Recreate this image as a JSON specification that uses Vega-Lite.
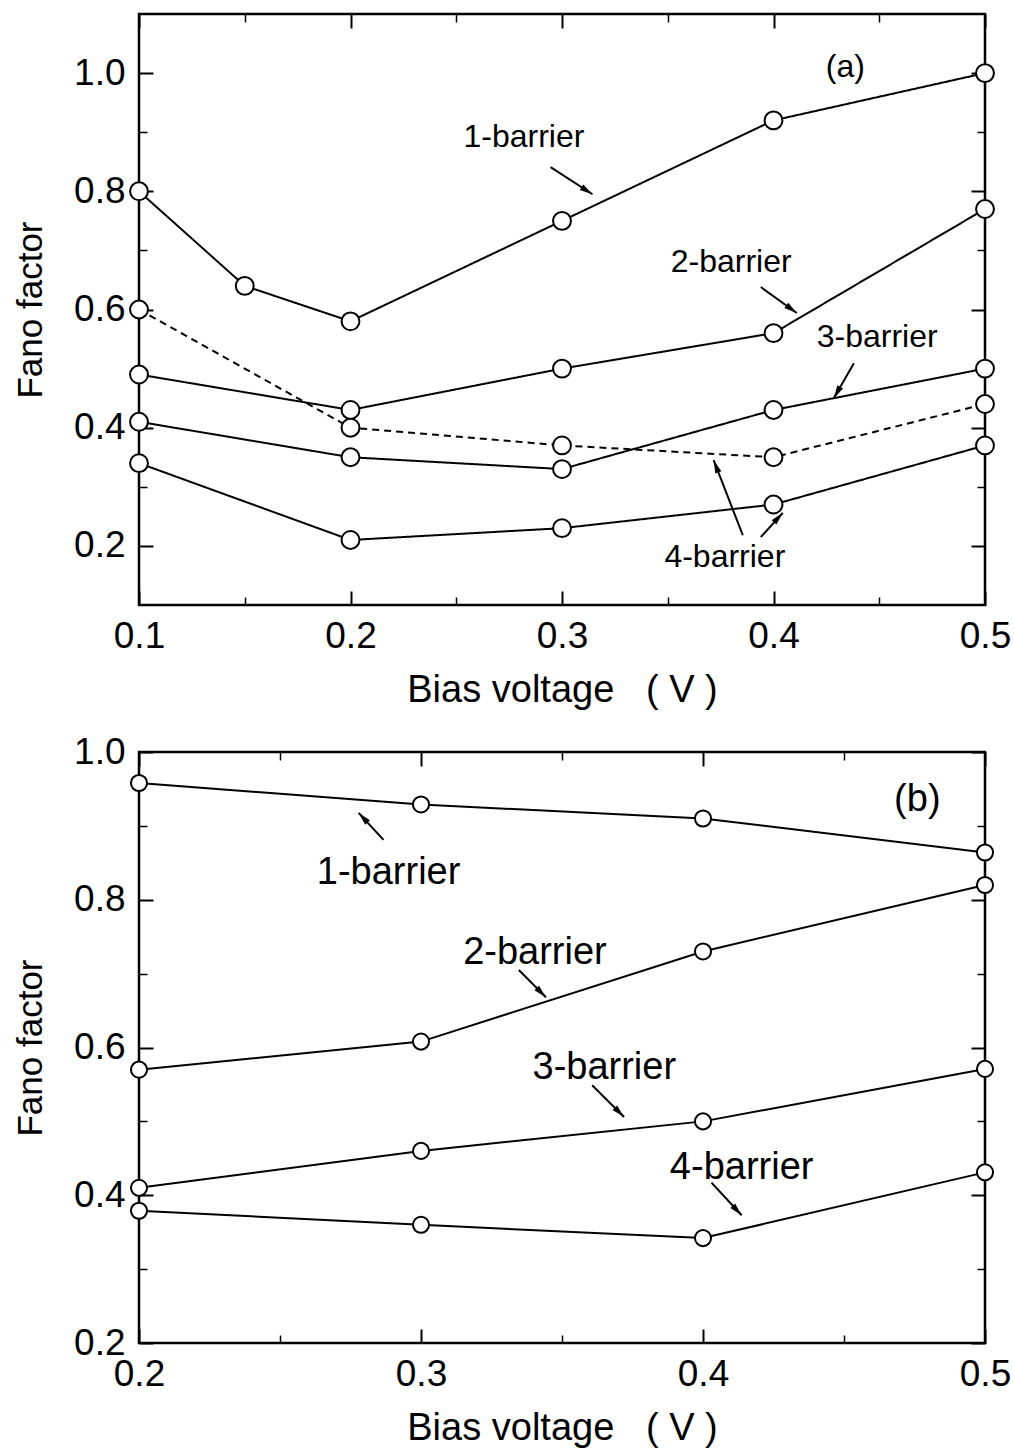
{
  "$schema": "https://vega.github.io/schema/vega-lite/v6.json",
  "padding": {"left": 12, "top": 11, "right": 5, "bottom": 5},
  "background": "white",
  "spacing": 147,
  "bounds": "flush",
  "config": {
    "font": "Liberation Sans",
    "view": {"stroke": "black", "strokeWidth": 2.5},
    "axis": {"domain": false, "grid": false, "tickColor": "black", "tickWidth": 2, "labelFont": "Liberation Sans", "labelFontSize": 37, "labelColor": "black", "titleFont": "Liberation Sans", "titleFontWeight": "normal", "titleColor": "black", "labelFlush": false, "labelOverlap": false},
    "axisX": {"labelPadding": 27, "titlePadding": 17, "titleFontSize": 38},
    "axisY": {"labelPadding": 28, "titlePadding": 25, "titleFontSize": 35}
  },
  "datasets": {
    "a": [
      {"x": 0.1, "y": 0.80, "s": "1"}, {"x": 0.15, "y": 0.64, "s": "1"}, {"x": 0.2, "y": 0.58, "s": "1"}, {"x": 0.3, "y": 0.75, "s": "1"}, {"x": 0.4, "y": 0.92, "s": "1"}, {"x": 0.5, "y": 1.0, "s": "1"},
      {"x": 0.1, "y": 0.49, "s": "2"}, {"x": 0.2, "y": 0.43, "s": "2"}, {"x": 0.3, "y": 0.50, "s": "2"}, {"x": 0.4, "y": 0.56, "s": "2"}, {"x": 0.5, "y": 0.77, "s": "2"},
      {"x": 0.1, "y": 0.41, "s": "3"}, {"x": 0.2, "y": 0.35, "s": "3"}, {"x": 0.3, "y": 0.33, "s": "3"}, {"x": 0.4, "y": 0.43, "s": "3"}, {"x": 0.5, "y": 0.50, "s": "3"},
      {"x": 0.1, "y": 0.34, "s": "4"}, {"x": 0.2, "y": 0.21, "s": "4"}, {"x": 0.3, "y": 0.23, "s": "4"}, {"x": 0.4, "y": 0.27, "s": "4"}, {"x": 0.5, "y": 0.37, "s": "4"},
      {"x": 0.1, "y": 0.60, "s": "4d"}, {"x": 0.2, "y": 0.40, "s": "4d"}, {"x": 0.3, "y": 0.37, "s": "4d"}, {"x": 0.4, "y": 0.35, "s": "4d"}, {"x": 0.5, "y": 0.44, "s": "4d"}
    ],
    "a_lab": [
      {"x": 0.282, "y": 0.892, "t": "1-barrier"},
      {"x": 0.380, "y": 0.680, "t": "2-barrier"},
      {"x": 0.449, "y": 0.553, "t": "3-barrier"},
      {"x": 0.377, "y": 0.181, "t": "4-barrier"},
      {"x": 0.434, "y": 1.010, "t": "(a)"}
    ],
    "a_arr": [
      {"x": 0.2946, "y": 0.841, "x2": 0.3144, "y2": 0.795, "dir": 122.7},
      {"x": 0.394, "y": 0.638, "x2": 0.411, "y2": 0.594, "dir": 126.6},
      {"x": 0.438, "y": 0.509, "x2": 0.4285, "y2": 0.450, "dir": 209.7},
      {"x": 0.3855, "y": 0.218, "x2": 0.3717, "y2": 0.345, "dir": 338.9},
      {"x": 0.394, "y": 0.215, "x2": 0.4044, "y2": 0.256, "dir": 42.5}
    ],
    "b": [
      {"x": 0.2, "y": 0.958, "s": "1"}, {"x": 0.3, "y": 0.929, "s": "1"}, {"x": 0.4, "y": 0.91, "s": "1"}, {"x": 0.5, "y": 0.864, "s": "1"},
      {"x": 0.2, "y": 0.570, "s": "2"}, {"x": 0.3, "y": 0.608, "s": "2"}, {"x": 0.4, "y": 0.730, "s": "2"}, {"x": 0.5, "y": 0.82, "s": "2"},
      {"x": 0.2, "y": 0.41, "s": "3"}, {"x": 0.3, "y": 0.46, "s": "3"}, {"x": 0.4, "y": 0.50, "s": "3"}, {"x": 0.5, "y": 0.571, "s": "3"},
      {"x": 0.2, "y": 0.379, "s": "4"}, {"x": 0.3, "y": 0.36, "s": "4"}, {"x": 0.4, "y": 0.342, "s": "4"}, {"x": 0.5, "y": 0.431, "s": "4"}
    ],
    "b_lab": [
      {"x": 0.2885, "y": 0.836, "t": "1-barrier"},
      {"x": 0.3404, "y": 0.728, "t": "2-barrier"},
      {"x": 0.365, "y": 0.572, "t": "3-barrier"},
      {"x": 0.4137, "y": 0.437, "t": "4-barrier"},
      {"x": 0.476, "y": 0.935, "t": "(b)"}
    ],
    "b_arr": [
      {"x": 0.2867, "y": 0.881, "x2": 0.2779, "y2": 0.9175, "dir": 317},
      {"x": 0.3347, "y": 0.705, "x2": 0.3443, "y2": 0.668, "dir": 135},
      {"x": 0.3607, "y": 0.549, "x2": 0.372, "y2": 0.506, "dir": 135},
      {"x": 0.403, "y": 0.417, "x2": 0.4137, "y2": 0.373, "dir": 136.8}
    ]
  },
  "vconcat": [
    {
      "width": 846,
      "height": 591,
      "resolve": {"axis": {"x": "independent", "y": "independent"}},
      "layer": [
        {
          "data": {"name": "a"},
          "mark": {"type": "line", "color": "black", "strokeWidth": 2},
          "encoding": {
            "x": {"field": "x", "type": "quantitative", "scale": {"domain": [0.1, 0.5], "nice": false, "zero": false}, "axis": {"orient": "bottom", "values": [0.1, 0.2, 0.3, 0.4, 0.5], "format": ".1f", "title": "Bias voltage\u00a0\u00a0\u00a0(\u00a0V\u00a0)", "tickSize": -14}},
            "y": {"field": "y", "type": "quantitative", "scale": {"domain": [0.1, 1.1], "nice": false, "zero": false}, "axis": {"orient": "left", "values": [0.2, 0.4, 0.6, 0.8, 1.0], "format": ".1f", "title": "Fano factor", "tickSize": -14}},
            "detail": {"field": "s", "type": "nominal"},
            "strokeDash": {"field": "s", "type": "nominal", "scale": {"domain": ["1", "2", "3", "4", "4d"], "range": [[1, 0], [1, 0], [1, 0], [1, 0], [7, 5]]}, "legend": null}
          }
        },
        {
          "data": {"name": "a"},
          "mark": {"type": "point", "shape": "circle", "filled": true, "fill": "white", "stroke": "black", "strokeWidth": 2, "size": 320, "opacity": 1},
          "encoding": {
            "x": {"field": "x", "type": "quantitative", "scale": {"domain": [0.1, 0.5], "nice": false, "zero": false}, "axis": {"orient": "top", "values": [0.1, 0.2, 0.3, 0.4, 0.5], "labels": false, "title": null, "tickSize": -14}},
            "y": {"field": "y", "type": "quantitative", "scale": {"domain": [0.1, 1.1], "nice": false, "zero": false}, "axis": {"orient": "right", "values": [0.2, 0.4, 0.6, 0.8, 1.0], "labels": false, "title": null, "tickSize": -14}}
          }
        },
        {
          "data": {"name": "a_arr"},
          "mark": {"type": "rule", "color": "black", "strokeWidth": 2},
          "encoding": {
            "x": {"field": "x", "type": "quantitative", "scale": {"domain": [0.1, 0.5], "nice": false, "zero": false}, "axis": {"orient": "bottom", "values": [0.15, 0.25, 0.35, 0.45], "labels": false, "title": null, "tickSize": -8, "tickWidth": 1.5}},
            "y": {"field": "y", "type": "quantitative", "scale": {"domain": [0.1, 1.1], "nice": false, "zero": false}, "axis": {"orient": "left", "values": [0.3, 0.5, 0.7, 0.9], "labels": false, "title": null, "tickSize": -8, "tickWidth": 1.5}},
            "x2": {"field": "x2"},
            "y2": {"field": "y2"}
          }
        },
        {
          "data": {"name": "a_arr"},
          "mark": {"type": "point", "shape": "M0,0L-0.55,2.2L0.55,2.2Z", "filled": true, "color": "black", "size": 140, "opacity": 1},
          "encoding": {
            "x": {"field": "x2", "type": "quantitative", "scale": {"domain": [0.1, 0.5], "nice": false, "zero": false}, "axis": {"orient": "top", "values": [0.15, 0.25, 0.35, 0.45], "labels": false, "title": null, "tickSize": -8, "tickWidth": 1.5}},
            "y": {"field": "y2", "type": "quantitative", "scale": {"domain": [0.1, 1.1], "nice": false, "zero": false}, "axis": {"orient": "right", "values": [0.3, 0.5, 0.7, 0.9], "labels": false, "title": null, "tickSize": -8, "tickWidth": 1.5}},
            "angle": {"field": "dir", "type": "quantitative", "scale": null}
          }
        },
        {
          "data": {"name": "a_lab"},
          "mark": {"type": "text", "font": "Liberation Sans", "fontSize": 32, "color": "black", "align": "center", "baseline": "middle"},
          "encoding": {
            "x": {"field": "x", "type": "quantitative", "scale": {"domain": [0.1, 0.5], "nice": false, "zero": false}, "axis": null},
            "y": {"field": "y", "type": "quantitative", "scale": {"domain": [0.1, 1.1], "nice": false, "zero": false}, "axis": null},
            "text": {"field": "t", "type": "nominal"}
          }
        }
      ]
    },
    {
      "width": 846,
      "height": 591,
      "resolve": {"axis": {"x": "independent", "y": "independent"}},
      "layer": [
        {
          "data": {"name": "b"},
          "mark": {"type": "line", "color": "black", "strokeWidth": 2},
          "encoding": {
            "x": {"field": "x", "type": "quantitative", "scale": {"domain": [0.2, 0.5], "nice": false, "zero": false}, "axis": {"orient": "bottom", "values": [0.2, 0.3, 0.4, 0.5], "format": ".1f", "title": "Bias voltage\u00a0\u00a0\u00a0(\u00a0V\u00a0)", "tickSize": -14}},
            "y": {"field": "y", "type": "quantitative", "scale": {"domain": [0.2, 1.0], "nice": false, "zero": false}, "axis": {"orient": "left", "values": [0.2, 0.4, 0.6, 0.8, 1.0], "format": ".1f", "title": "Fano factor", "tickSize": -14}},
            "detail": {"field": "s", "type": "nominal"}
          }
        },
        {
          "data": {"name": "b"},
          "mark": {"type": "point", "shape": "circle", "filled": true, "fill": "white", "stroke": "black", "strokeWidth": 2, "size": 260, "opacity": 1},
          "encoding": {
            "x": {"field": "x", "type": "quantitative", "scale": {"domain": [0.2, 0.5], "nice": false, "zero": false}, "axis": {"orient": "top", "values": [0.2, 0.3, 0.4, 0.5], "labels": false, "title": null, "tickSize": -14}},
            "y": {"field": "y", "type": "quantitative", "scale": {"domain": [0.2, 1.0], "nice": false, "zero": false}, "axis": {"orient": "right", "values": [0.2, 0.4, 0.6, 0.8, 1.0], "labels": false, "title": null, "tickSize": -14}}
          }
        },
        {
          "data": {"name": "b_arr"},
          "mark": {"type": "rule", "color": "black", "strokeWidth": 2},
          "encoding": {
            "x": {"field": "x", "type": "quantitative", "scale": {"domain": [0.2, 0.5], "nice": false, "zero": false}, "axis": {"orient": "bottom", "values": [0.25, 0.35, 0.45], "labels": false, "title": null, "tickSize": -8, "tickWidth": 1.5}},
            "y": {"field": "y", "type": "quantitative", "scale": {"domain": [0.2, 1.0], "nice": false, "zero": false}, "axis": {"orient": "left", "values": [0.3, 0.5, 0.7, 0.9], "labels": false, "title": null, "tickSize": -8, "tickWidth": 1.5}},
            "x2": {"field": "x2"},
            "y2": {"field": "y2"}
          }
        },
        {
          "data": {"name": "b_arr"},
          "mark": {"type": "point", "shape": "M0,0L-0.55,2.2L0.55,2.2Z", "filled": true, "color": "black", "size": 140, "opacity": 1},
          "encoding": {
            "x": {"field": "x2", "type": "quantitative", "scale": {"domain": [0.2, 0.5], "nice": false, "zero": false}, "axis": {"orient": "top", "values": [0.25, 0.35, 0.45], "labels": false, "title": null, "tickSize": -8, "tickWidth": 1.5}},
            "y": {"field": "y2", "type": "quantitative", "scale": {"domain": [0.2, 1.0], "nice": false, "zero": false}, "axis": {"orient": "right", "values": [0.3, 0.5, 0.7, 0.9], "labels": false, "title": null, "tickSize": -8, "tickWidth": 1.5}},
            "angle": {"field": "dir", "type": "quantitative", "scale": null}
          }
        },
        {
          "data": {"name": "b_lab"},
          "mark": {"type": "text", "font": "Liberation Sans", "fontSize": 38, "color": "black", "align": "center", "baseline": "middle"},
          "encoding": {
            "x": {"field": "x", "type": "quantitative", "scale": {"domain": [0.2, 0.5], "nice": false, "zero": false}, "axis": null},
            "y": {"field": "y", "type": "quantitative", "scale": {"domain": [0.2, 1.0], "nice": false, "zero": false}, "axis": null},
            "text": {"field": "t", "type": "nominal"}
          }
        }
      ]
    }
  ]
}
